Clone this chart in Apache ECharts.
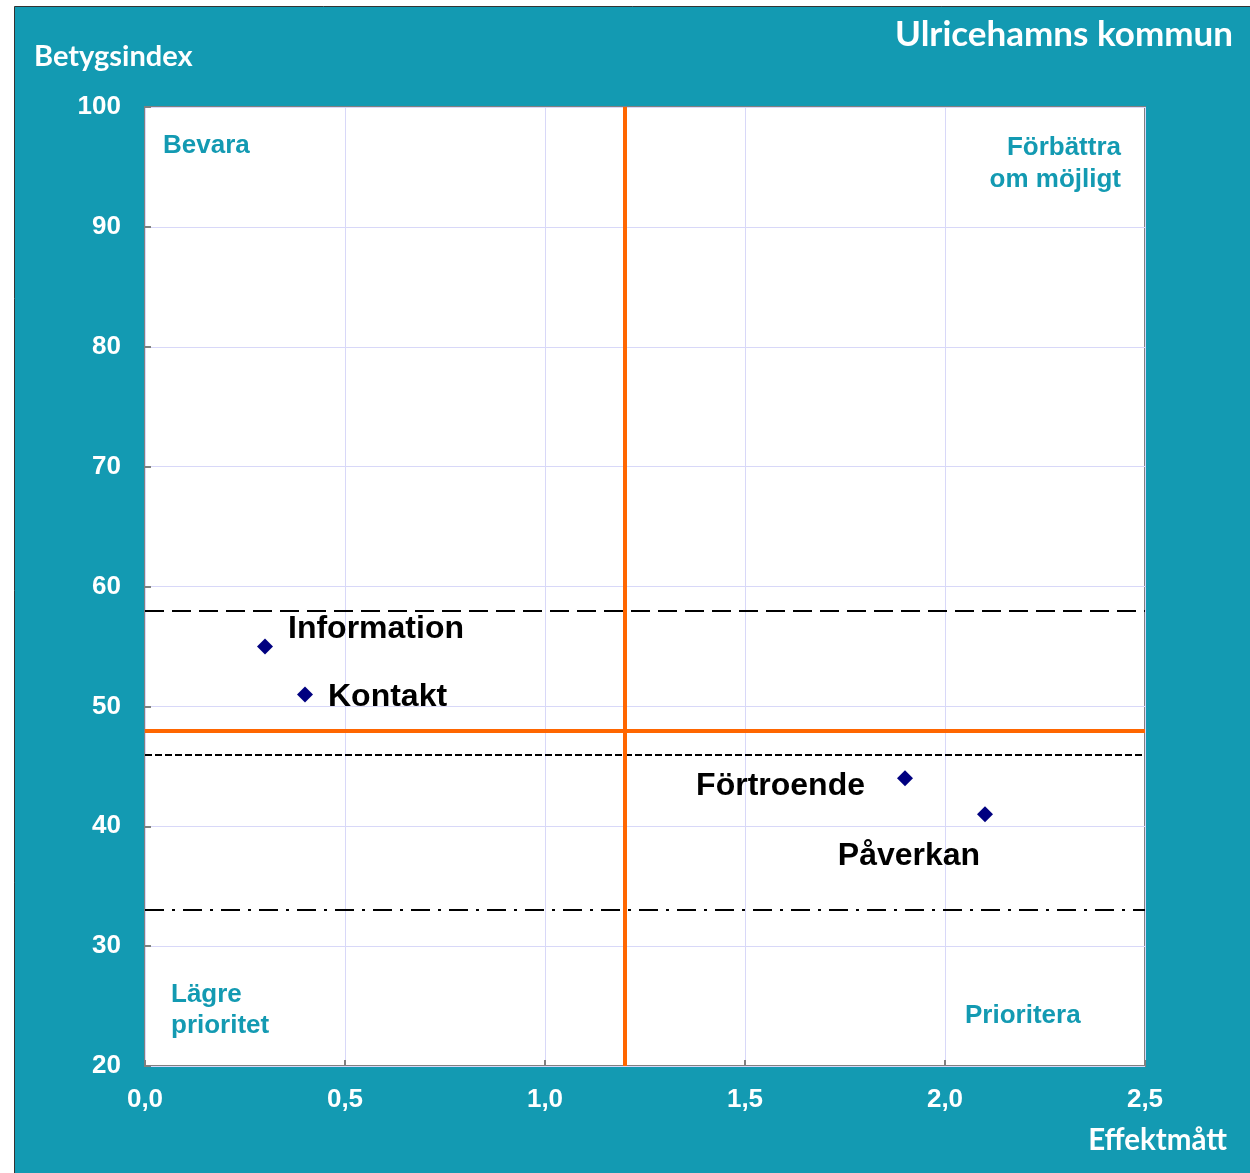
<!DOCTYPE html>
<html>
<head>
<meta charset="utf-8">
<script src="https://cdn.jsdelivr.net/npm/echarts@6/dist/echarts.min.js"></script>
<style>
html,body{margin:0;padding:0;background:#fff;}
#chart{width:1250px;height:1173px;}
</style>
</head>
<body>
<div id="chart"></div>
<script>
// ---- Data ----
const names = ['Information', 'Kontakt', 'Förtroende', 'Påverkan'];
const effekt = [0.3, 0.4, 1.9, 2.1];
const betyg = [55, 51, 44, 41];
const xTicks = [0, 0.5, 1.0, 1.5, 2.0, 2.5];
const yTicks = [20, 30, 40, 50, 60, 70, 80, 90, 100];
const orangeX = 1.2;
const orangeY = 48;
const longDashY = 58;
const shortDashY = 46;
const dashDotY = 33;
const title = 'Ulricehamns kommun';
const yName = 'Betygsindex';
const xName = 'Effektmått';
const quadrants = ['Bevara', 'Förbättra\nom möjligt', 'Lägre\nprioritet', 'Prioritera'];

// ---- Styles ----
const TEAL = '#139AB2';
const labelCfg = [
  {offset: [10, -17], position: 'right'},
  {offset: [10, 3], position: 'right'},
  {offset: [-27, 8], position: 'left'},
  {offset: [-76, 42], position: 'inside'}
];

const chart = echarts.init(document.getElementById('chart'), null, {renderer: 'canvas'});

const scatterData = names.map((n, i) => ({
  name: n,
  value: [effekt[i], betyg[i]],
  label: {
    show: true,
    formatter: n,
    position: labelCfg[i].position,
    offset: labelCfg[i].offset,
    color: '#000',
    opacity: 1,
    fontFamily: 'Liberation Sans, Arial, sans-serif',
    fontWeight: 'bold',
    fontSize: 32
  }
}));

const axisLabelStyle = {
  color: '#fff',
  fontFamily: 'Liberation Sans, Arial, sans-serif',
  fontWeight: 'bold',
  fontSize: 26
};
const qStyle = {
  fill: TEAL,
  fontFamily: 'Liberation Sans, Arial, sans-serif',
  fontWeight: 'bold',
  fontSize: 26,
  lineHeight: 31
};
const headFont = 'Lato, "Open Sans", sans-serif';

const option = {
  animation: false,
  backgroundColor: '#fff',
  grid: {
    left: 145, top: 107, width: 1000, height: 959,
    show: true, backgroundColor: '#fff', borderColor: '#808080', borderWidth: 2,
    containLabel: false
  },
  xAxis: {
    type: 'value', min: 0, max: 2.5, interval: 0.5,
    axisLine: {show: false},
    axisTick: {show: true, inside: true, length: 6, lineStyle: {color: '#808080', width: 2}},
    splitLine: {show: true, lineStyle: {color: '#D8D8F8', width: 1}},
    axisLabel: Object.assign({margin: 21, formatter: v => v.toFixed(1).replace('.', ',')}, axisLabelStyle)
  },
  yAxis: {
    type: 'value', min: 20, max: 100, interval: 10,
    axisLine: {show: false},
    axisTick: {show: true, inside: true, length: 6, lineStyle: {color: '#808080', width: 2}},
    splitLine: {show: true, lineStyle: {color: '#D8D8F8', width: 1}},
    axisLabel: Object.assign({margin: 24}, axisLabelStyle)
  },
  graphic: [
    {type: 'rect', z: -10, silent: true,
     shape: {x: 14.5, y: 6.5, width: 1240, height: 1170},
     style: {fill: TEAL, stroke: '#333', lineWidth: 1}},
    {type: 'text', z: 10, style: {text: title, x: 1233, y: 35, align: 'right', verticalAlign: 'middle',
      fill: '#fff', font: 'bold 35px ' + headFont}},
    {type: 'text', z: 10, style: {text: yName, x: 34, y: 57, align: 'left', verticalAlign: 'middle',
      fill: '#fff', font: 'bold 29px ' + headFont}},
    {type: 'text', z: 10, style: {text: xName, x: 1227, y: 1140, align: 'right', verticalAlign: 'middle',
      fill: '#fff', font: 'bold 29.5px ' + headFont}},
    {type: 'text', z: 10, style: Object.assign({text: quadrants[0], x: 163, y: 146, align: 'left', verticalAlign: 'middle'}, qStyle)},
    {type: 'text', z: 10, style: Object.assign({text: quadrants[1], x: 1121, y: 164, align: 'right', verticalAlign: 'middle'}, qStyle, {lineHeight: 32})},
    {type: 'text', z: 10, style: Object.assign({text: quadrants[2], x: 171, y: 1010, align: 'left', verticalAlign: 'middle'}, qStyle)},
    {type: 'text', z: 10, style: Object.assign({text: quadrants[3], x: 965, y: 1016, align: 'left', verticalAlign: 'middle'}, qStyle)}
  ],
  series: [
    {
      type: 'scatter',
      symbol: 'diamond',
      symbolSize: 16,
      itemStyle: {color: '#000080', opacity: 1},
      data: scatterData,
      z: 5,
      markLine: {
        silent: true,
        symbol: 'none',
        label: {show: false},
        animation: false,
        data: [
          {yAxis: longDashY, lineStyle: {color: '#000', width: 2, type: [19, 8], opacity: 1}},
          {yAxis: shortDashY, lineStyle: {color: '#000', width: 2, type: [7, 3], opacity: 1}},
          {yAxis: dashDotY, lineStyle: {color: '#000', width: 2, type: [19, 8, 3, 8], opacity: 1}},
          {yAxis: orangeY, lineStyle: {color: '#FF6600', width: 4, type: 'solid', opacity: 1}},
          {xAxis: orangeX, lineStyle: {color: '#FF6600', width: 4, type: 'solid', opacity: 1}}
        ]
      }
    }
  ]
};
chart.setOption(option);
</script>
</body>
</html>
